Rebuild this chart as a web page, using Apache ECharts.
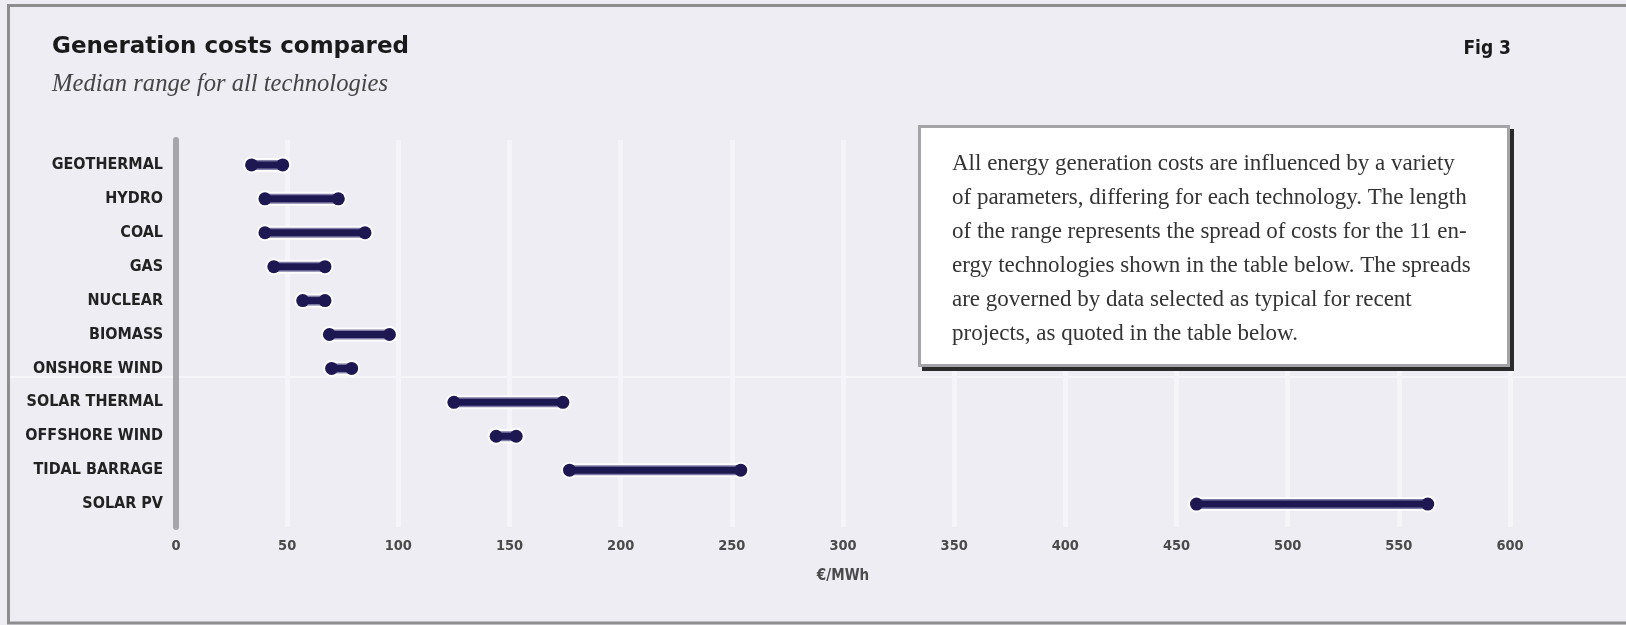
<!DOCTYPE html>
<html>
<head>
<meta charset="utf-8">
<script src="https://cdn.jsdelivr.net/npm/echarts@6/dist/echarts.min.js"></script>
<style>
html,body{margin:0;padding:0;background:#efedf4;}
#c{width:1626px;height:625px;}
</style>
</head>
<body>
<div id="c"></div>
<script>
// ---- data ----
var categories = ['GEOTHERMAL','HYDRO','COAL','GAS','NUCLEAR','BIOMASS','ONSHORE WIND','SOLAR THERMAL','OFFSHORE WIND','TIDAL BARRAGE','SOLAR PV'];
var lowCost  = [34, 40, 40, 44, 57, 69, 70, 125, 144, 177, 459];
var highCost = [48, 73, 85, 67, 67, 96, 79, 174, 153, 254, 563];
var xMin = 0, xMax = 600, xStep = 50;
var titleText = 'Generation costs compared';
var subtitleText = 'Median range for all technologies';
var figText = 'Fig 3';
var axisName = '€/MWh';
var noteLines = [
  'All energy generation costs are influenced by a variety',
  'of parameters, differing for each technology. The length',
  'of the range represents the spread of costs for the 11 en-',
  'ergy technologies shown in the table below. The spreads',
  'are governed by data selected as typical for recent',
  'projects, as quoted in the table below.'
];

var seriesData = categories.map(function(c, i){ return [i, lowCost[i], highCost[i]]; });

var NAVY = '#1d1752';
var narrow = '"DejaVu Sans Condensed", "DejaVu Sans", sans-serif';

var chart = echarts.init(document.getElementById('c'));
var option = {
  backgroundColor: '#efedf4',
  animation: false,
  grid: [
    {left: 176, right: 116, top: 140, height: 387},
    {left: 176, right: 116, top: 148, height: 373}
  ],
  xAxis: [
    {
      gridIndex: 0, type: 'value', min: xMin, max: xMax, interval: xStep,
      axisLine: {show: false}, axisTick: {show: false},
      splitLine: {show: true, lineStyle: {color: '#f5f4f9', width: 5}},
      axisLabel: {margin: 12, color: '#4a4a4a', fontFamily: narrow, fontSize: 14.5, fontWeight: 'bold'},
      name: axisName, nameLocation: 'middle', nameGap: 42,
      nameTextStyle: {color: '#4a4a4a', fontFamily: narrow, fontSize: 15, fontWeight: 'bold'}
    },
    {
      gridIndex: 1, type: 'value', min: xMin, max: xMax, show: false
    }
  ],
  yAxis: [
    {
      gridIndex: 0, type: 'value', min: 0, max: 1,
      axisLine: {show: true, lineStyle: {color: '#a6a5ac', width: 6}},
      axisTick: {show: false}, axisLabel: {show: false}, splitLine: {show: false}
    },
    {
      gridIndex: 1, type: 'category', data: categories, inverse: true,
      axisLine: {show: false}, axisTick: {show: false}, splitLine: {show: false},
      axisLabel: {margin: 13, color: '#222', fontFamily: narrow, fontSize: 16, fontWeight: 'bold'}
    }
  ],
  series: [{
    type: 'custom',
    xAxisIndex: 1, yAxisIndex: 1,
    data: seriesData,
    encode: {x: [1, 2], y: 0},
    renderItem: function(params, api){
      var y = api.value(0);
      var a = api.coord([api.value(1), y]);
      var b = api.coord([api.value(2), y]);
      return {
        type: 'group',
        children: [
          {type: 'line', shape: {x1: a[0], y1: a[1], x2: b[0], y2: b[1]},
           style: {stroke: 'rgba(255,255,255,0.8)', lineWidth: 14, lineCap: 'round'}},
          {type: 'circle', shape: {cx: a[0], cy: a[1], r: 8.5}, style: {fill: 'rgba(255,255,255,0.8)'}},
          {type: 'circle', shape: {cx: b[0], cy: b[1], r: 8.5}, style: {fill: 'rgba(255,255,255,0.8)'}},
          {type: 'line', shape: {x1: a[0], y1: a[1], x2: b[0], y2: b[1]},
           style: {stroke: '#7f7ca6', lineWidth: 10}},
          {type: 'line', shape: {x1: a[0], y1: a[1], x2: b[0], y2: b[1]},
           style: {stroke: NAVY, lineWidth: 7}},
          {type: 'circle', shape: {cx: a[0], cy: a[1], r: 6.5}, style: {fill: NAVY}},
          {type: 'circle', shape: {cx: b[0], cy: b[1], r: 6.5}, style: {fill: NAVY}}
        ]
      };
    }
  }],
  graphic: [
    {type: 'rect', z: -10, silent: true,
     shape: {x: 8.5, y: 5.5, width: 1640, height: 617.5},
     style: {fill: 'none', stroke: '#8e8e8e', lineWidth: 3}},
    {type: 'line', z: -10, silent: true,
     shape: {x1: 10, y1: 377, x2: 1626, y2: 377},
     style: {stroke: '#f8f7fb', lineWidth: 1.5}},
    {type: 'text', x: 52, y: 47, silent: true,
     style: {text: titleText, fill: '#1a1a1a', font: 'bold 23px "DejaVu Sans", sans-serif', verticalAlign: 'middle'}},
    {type: 'text', x: 52, y: 85, silent: true,
     style: {text: subtitleText, fill: '#444', font: 'italic 24.6px "Liberation Serif", serif', verticalAlign: 'middle'}},
    {type: 'text', x: 1511, y: 49, silent: true,
     style: {text: figText, fill: '#1a1a1a', font: 'bold 19px ' + narrow, align: 'right', verticalAlign: 'middle'}},
    {type: 'rect', z: 50, silent: true,
     shape: {x: 922, y: 129, width: 592, height: 242},
     style: {fill: '#2a2a2a'}},
    {type: 'rect', z: 51, silent: true,
     shape: {x: 919.5, y: 126.5, width: 589, height: 239},
     style: {fill: '#ffffff', stroke: '#a4a4a8', lineWidth: 3}},
    {type: 'text', z: 52, x: 952, y: 146.5, silent: true,
     style: {text: noteLines.join('\n'), fill: '#333', font: '23px "Liberation Serif", serif', lineHeight: 34, verticalAlign: 'top'}}
  ]
};
chart.setOption(option);
</script>
</body>
</html>
